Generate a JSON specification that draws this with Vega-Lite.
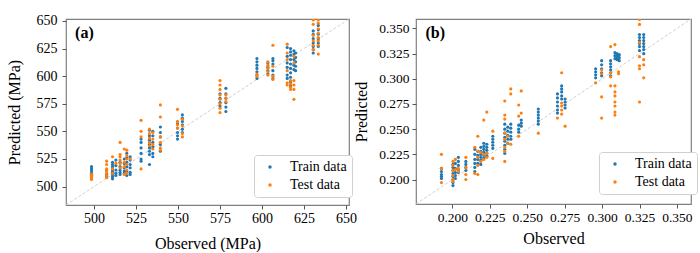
{
"$schema": "https://vega.github.io/schema/vega-lite/v6.json",
"padding": {"left": 5, "top": 13, "right": 0, "bottom": 0},
"bounds": "flush",
"spacing": 67,
"background": "white",
"datasets": {
"la": [{"o":483.3,"p":483.3},{"o":651.8,"p":651.8}],
"lb": [{"o":0.1757,"p":0.1757},{"o":0.3594,"p":0.3594}],
"a": [
{"o":498.5,"p":518,"s":"Train data"},{"o":498.5,"p":516,"s":"Train data"},{"o":498.5,"p":514,"s":"Train data"},{"o":498.5,"p":512,"s":"Train data"},{"o":498.5,"p":511,"s":"Train data"},{"o":498.5,"p":510,"s":"Train data"},{"o":498.5,"p":509,"s":"Train data"},
{"o":507.5,"p":515,"s":"Train data"},{"o":507.5,"p":511,"s":"Train data"},{"o":507.5,"p":509,"s":"Train data"},
{"o":511,"p":522,"s":"Train data"},{"o":511,"p":520,"s":"Train data"},{"o":511,"p":518,"s":"Train data"},{"o":511,"p":516,"s":"Train data"},{"o":511,"p":514,"s":"Train data"},{"o":511,"p":513,"s":"Train data"},{"o":511,"p":511,"s":"Train data"},{"o":511,"p":509,"s":"Train data"},{"o":511,"p":507,"s":"Train data"},
{"o":513,"p":524,"s":"Train data"},{"o":513,"p":519,"s":"Train data"},{"o":513,"p":515,"s":"Train data"},{"o":513,"p":512,"s":"Train data"},{"o":513,"p":510,"s":"Train data"},
{"o":515.5,"p":522,"s":"Train data"},{"o":515.5,"p":518,"s":"Train data"},{"o":515.5,"p":515,"s":"Train data"},{"o":515.5,"p":513,"s":"Train data"},{"o":515.5,"p":511,"s":"Train data"},
{"o":518,"p":525,"s":"Train data"},{"o":518,"p":521,"s":"Train data"},{"o":518,"p":517,"s":"Train data"},{"o":518,"p":514,"s":"Train data"},{"o":518,"p":512,"s":"Train data"},
{"o":519.5,"p":530,"s":"Train data"},{"o":519.5,"p":526,"s":"Train data"},{"o":519.5,"p":522,"s":"Train data"},{"o":519.5,"p":518,"s":"Train data"},{"o":519.5,"p":514,"s":"Train data"},{"o":519.5,"p":510,"s":"Train data"},
{"o":521.5,"p":527,"s":"Train data"},{"o":521.5,"p":524,"s":"Train data"},{"o":521.5,"p":520,"s":"Train data"},{"o":521.5,"p":517,"s":"Train data"},{"o":521.5,"p":513,"s":"Train data"},{"o":521.5,"p":511,"s":"Train data"},
{"o":528,"p":543,"s":"Train data"},{"o":528,"p":540,"s":"Train data"},{"o":528,"p":535,"s":"Train data"},{"o":528,"p":530,"s":"Train data"},{"o":528,"p":525,"s":"Train data"},{"o":528,"p":523,"s":"Train data"},
{"o":533,"p":551,"s":"Train data"},{"o":533,"p":546,"s":"Train data"},{"o":533,"p":542,"s":"Train data"},{"o":533,"p":538,"s":"Train data"},{"o":533,"p":535,"s":"Train data"},{"o":533,"p":532,"s":"Train data"},{"o":533,"p":529,"s":"Train data"},{"o":533,"p":520,"s":"Train data"},
{"o":535,"p":550,"s":"Train data"},{"o":535,"p":546,"s":"Train data"},{"o":535,"p":540,"s":"Train data"},{"o":535,"p":536,"s":"Train data"},{"o":535,"p":530,"s":"Train data"},{"o":535,"p":527,"s":"Train data"},
{"o":539.5,"p":554,"s":"Train data"},{"o":539.5,"p":549,"s":"Train data"},{"o":539.5,"p":545,"s":"Train data"},{"o":539.5,"p":538,"s":"Train data"},{"o":539.5,"p":532,"s":"Train data"},
{"o":549.7,"p":557,"s":"Train data"},{"o":549.7,"p":553,"s":"Train data"},{"o":549.7,"p":549,"s":"Train data"},{"o":549.7,"p":546,"s":"Train data"},{"o":549.7,"p":543,"s":"Train data"},
{"o":552.6,"p":565,"s":"Train data"},{"o":552.6,"p":562,"s":"Train data"},{"o":552.6,"p":559,"s":"Train data"},{"o":552.6,"p":556,"s":"Train data"},{"o":552.6,"p":552,"s":"Train data"},{"o":552.6,"p":549,"s":"Train data"},
{"o":575,"p":584,"s":"Train data"},{"o":575,"p":580,"s":"Train data"},{"o":575,"p":576,"s":"Train data"},{"o":575,"p":573,"s":"Train data"},
{"o":578.5,"p":589,"s":"Train data"},{"o":578.5,"p":584,"s":"Train data"},{"o":578.5,"p":580,"s":"Train data"},{"o":578.5,"p":576,"s":"Train data"},{"o":578.5,"p":572,"s":"Train data"},{"o":578.5,"p":568,"s":"Train data"},
{"o":597,"p":616,"s":"Train data"},{"o":597,"p":613,"s":"Train data"},{"o":597,"p":610,"s":"Train data"},{"o":597,"p":607,"s":"Train data"},{"o":597,"p":604,"s":"Train data"},{"o":597,"p":601,"s":"Train data"},{"o":597,"p":598,"s":"Train data"},
{"o":603.5,"p":612,"s":"Train data"},{"o":603.5,"p":608,"s":"Train data"},{"o":603.5,"p":605,"s":"Train data"},{"o":603.5,"p":602,"s":"Train data"},
{"o":606.5,"p":616,"s":"Train data"},{"o":606.5,"p":614,"s":"Train data"},{"o":606.5,"p":611,"s":"Train data"},{"o":606.5,"p":605,"s":"Train data"},{"o":606.5,"p":601,"s":"Train data"},{"o":606.5,"p":598,"s":"Train data"},
{"o":615,"p":626,"s":"Train data"},{"o":615,"p":618,"s":"Train data"},{"o":615,"p":612,"s":"Train data"},{"o":615,"p":608,"s":"Train data"},{"o":615,"p":601,"s":"Train data"},{"o":615,"p":598,"s":"Train data"},
{"o":617,"p":625,"s":"Train data"},{"o":617,"p":622,"s":"Train data"},{"o":617,"p":619,"s":"Train data"},{"o":617,"p":615,"s":"Train data"},{"o":617,"p":611,"s":"Train data"},{"o":617,"p":607,"s":"Train data"},{"o":617,"p":603,"s":"Train data"},{"o":617,"p":599,"s":"Train data"},{"o":617,"p":595,"s":"Train data"},{"o":617,"p":591,"s":"Train data"},
{"o":619,"p":623,"s":"Train data"},{"o":619,"p":620,"s":"Train data"},{"o":619,"p":615,"s":"Train data"},{"o":619,"p":610,"s":"Train data"},{"o":619,"p":606,"s":"Train data"},
{"o":620,"p":621,"s":"Train data"},{"o":620,"p":617,"s":"Train data"},{"o":620,"p":613,"s":"Train data"},{"o":620,"p":609,"s":"Train data"},{"o":620,"p":605,"s":"Train data"},
{"o":630.5,"p":641,"s":"Train data"},{"o":630.5,"p":638,"s":"Train data"},{"o":630.5,"p":634,"s":"Train data"},{"o":630.5,"p":630,"s":"Train data"},{"o":630.5,"p":627,"s":"Train data"},{"o":630.5,"p":624,"s":"Train data"},{"o":630.5,"p":621,"s":"Train data"},
{"o":633.5,"p":646,"s":"Train data"},{"o":633.5,"p":642,"s":"Train data"},{"o":633.5,"p":638,"s":"Train data"},{"o":633.5,"p":634,"s":"Train data"},{"o":633.5,"p":630,"s":"Train data"},{"o":633.5,"p":627,"s":"Train data"},
{"o":498.5,"p":511,"s":"Test data"},{"o":498.5,"p":509,"s":"Test data"},{"o":498.5,"p":508,"s":"Test data"},{"o":498.5,"p":507,"s":"Test data"},{"o":498.5,"p":510,"s":"Test data"},{"o":498.5,"p":506.5,"s":"Test data"},
{"o":507.5,"p":523,"s":"Test data"},{"o":507.5,"p":520,"s":"Test data"},{"o":507.5,"p":516,"s":"Test data"},{"o":507.5,"p":514,"s":"Test data"},{"o":507.5,"p":512,"s":"Test data"},{"o":507.5,"p":510,"s":"Test data"},{"o":507.5,"p":508,"s":"Test data"},
{"o":511,"p":527,"s":"Test data"},{"o":511,"p":516,"s":"Test data"},{"o":511,"p":512,"s":"Test data"},
{"o":513,"p":521,"s":"Test data"},
{"o":515.5,"p":540,"s":"Test data"},{"o":515.5,"p":529,"s":"Test data"},{"o":515.5,"p":527,"s":"Test data"},{"o":515.5,"p":524,"s":"Test data"},{"o":515.5,"p":521,"s":"Test data"},{"o":515.5,"p":517,"s":"Test data"},
{"o":518,"p":534,"s":"Test data"},{"o":518,"p":522,"s":"Test data"},{"o":518,"p":518,"s":"Test data"},{"o":518,"p":511,"s":"Test data"},
{"o":519.5,"p":533,"s":"Test data"},{"o":519.5,"p":528,"s":"Test data"},{"o":519.5,"p":525,"s":"Test data"},{"o":519.5,"p":520,"s":"Test data"},{"o":519.5,"p":515,"s":"Test data"},{"o":519.5,"p":512,"s":"Test data"},
{"o":521.5,"p":525,"s":"Test data"},
{"o":528,"p":560,"s":"Test data"},{"o":528,"p":550,"s":"Test data"},{"o":528,"p":545,"s":"Test data"},{"o":528,"p":516,"s":"Test data"},
{"o":533,"p":552,"s":"Test data"},{"o":533,"p":548,"s":"Test data"},{"o":533,"p":544,"s":"Test data"},{"o":533,"p":540,"s":"Test data"},{"o":533,"p":537,"s":"Test data"},
{"o":535,"p":549,"s":"Test data"},{"o":535,"p":543,"s":"Test data"},{"o":535,"p":538,"s":"Test data"},{"o":535,"p":534,"s":"Test data"},
{"o":539.5,"p":574,"s":"Test data"},{"o":539.5,"p":563,"s":"Test data"},{"o":539.5,"p":545,"s":"Test data"},{"o":539.5,"p":540,"s":"Test data"},{"o":539.5,"p":535,"s":"Test data"},{"o":539.5,"p":533,"s":"Test data"},
{"o":549.7,"p":570,"s":"Test data"},{"o":549.7,"p":559,"s":"Test data"},{"o":549.7,"p":556,"s":"Test data"},{"o":549.7,"p":553,"s":"Test data"},
{"o":552.6,"p":561,"s":"Test data"},{"o":552.6,"p":555,"s":"Test data"},{"o":552.6,"p":548,"s":"Test data"},{"o":552.6,"p":545,"s":"Test data"},
{"o":575,"p":596,"s":"Test data"},{"o":575,"p":592,"s":"Test data"},{"o":575,"p":588,"s":"Test data"},{"o":575,"p":583,"s":"Test data"},{"o":575,"p":579,"s":"Test data"},{"o":575,"p":575,"s":"Test data"},{"o":575,"p":571,"s":"Test data"},{"o":575,"p":567,"s":"Test data"},
{"o":578.5,"p":583,"s":"Test data"},{"o":578.5,"p":580,"s":"Test data"},{"o":578.5,"p":577,"s":"Test data"},
{"o":597,"p":602,"s":"Test data"},{"o":597,"p":600,"s":"Test data"},
{"o":603.5,"p":613,"s":"Test data"},{"o":603.5,"p":610,"s":"Test data"},{"o":603.5,"p":607,"s":"Test data"},{"o":603.5,"p":604,"s":"Test data"},{"o":603.5,"p":601,"s":"Test data"},
{"o":606.5,"p":628,"s":"Test data"},{"o":606.5,"p":609,"s":"Test data"},{"o":606.5,"p":600,"s":"Test data"},{"o":606.5,"p":597,"s":"Test data"},
{"o":615,"p":629,"s":"Test data"},{"o":615,"p":621,"s":"Test data"},{"o":615,"p":615,"s":"Test data"},{"o":615,"p":605,"s":"Test data"},{"o":615,"p":594,"s":"Test data"},{"o":615,"p":592,"s":"Test data"},
{"o":617,"p":596,"s":"Test data"},{"o":617,"p":593,"s":"Test data"},{"o":617,"p":590,"s":"Test data"},{"o":617,"p":588,"s":"Test data"},
{"o":619,"p":618,"s":"Test data"},{"o":619,"p":612,"s":"Test data"},{"o":619,"p":596,"s":"Test data"},{"o":619,"p":592,"s":"Test data"},{"o":619,"p":588,"s":"Test data"},{"o":619,"p":579,"s":"Test data"},
{"o":630.5,"p":651,"s":"Test data"},{"o":630.5,"p":647,"s":"Test data"},{"o":630.5,"p":637,"s":"Test data"},{"o":630.5,"p":632,"s":"Test data"},{"o":630.5,"p":628,"s":"Test data"},{"o":630.5,"p":624,"s":"Test data"},
{"o":633.5,"p":651,"s":"Test data"},{"o":633.5,"p":648,"s":"Test data"},{"o":633.5,"p":643,"s":"Test data"},{"o":633.5,"p":639,"s":"Test data"},{"o":633.5,"p":635,"s":"Test data"},{"o":633.5,"p":632,"s":"Test data"},{"o":633.5,"p":628,"s":"Test data"},{"o":633.5,"p":620,"s":"Test data"}
],
"b": [
{"o":0.1927,"p":0.211,"s":"Train data"},{"o":0.1927,"p":0.208,"s":"Train data"},{"o":0.1927,"p":0.205,"s":"Train data"},{"o":0.1927,"p":0.203,"s":"Train data"},{"o":0.1927,"p":0.201,"s":"Train data"},
{"o":0.2004,"p":0.215,"s":"Train data"},{"o":0.2004,"p":0.212,"s":"Train data"},{"o":0.2004,"p":0.209,"s":"Train data"},{"o":0.2004,"p":0.206,"s":"Train data"},{"o":0.2004,"p":0.203,"s":"Train data"},{"o":0.2004,"p":0.2,"s":"Train data"},{"o":0.2004,"p":0.197,"s":"Train data"},{"o":0.2004,"p":0.194,"s":"Train data"},
{"o":0.202,"p":0.216,"s":"Train data"},{"o":0.202,"p":0.211,"s":"Train data"},{"o":0.202,"p":0.207,"s":"Train data"},{"o":0.202,"p":0.204,"s":"Train data"},{"o":0.202,"p":0.201,"s":"Train data"},
{"o":0.204,"p":0.222,"s":"Train data"},{"o":0.204,"p":0.218,"s":"Train data"},{"o":0.204,"p":0.214,"s":"Train data"},{"o":0.204,"p":0.21,"s":"Train data"},{"o":0.204,"p":0.207,"s":"Train data"},
{"o":0.209,"p":0.218,"s":"Train data"},{"o":0.209,"p":0.215,"s":"Train data"},{"o":0.209,"p":0.212,"s":"Train data"},{"o":0.209,"p":0.209,"s":"Train data"},
{"o":0.215,"p":0.23,"s":"Train data"},{"o":0.215,"p":0.225,"s":"Train data"},{"o":0.215,"p":0.22,"s":"Train data"},{"o":0.215,"p":0.216,"s":"Train data"},{"o":0.215,"p":0.212,"s":"Train data"},{"o":0.215,"p":0.208,"s":"Train data"},
{"o":0.217,"p":0.228,"s":"Train data"},{"o":0.217,"p":0.224,"s":"Train data"},{"o":0.217,"p":0.22,"s":"Train data"},{"o":0.217,"p":0.216,"s":"Train data"},
{"o":0.219,"p":0.232,"s":"Train data"},{"o":0.219,"p":0.228,"s":"Train data"},{"o":0.219,"p":0.225,"s":"Train data"},{"o":0.219,"p":0.222,"s":"Train data"},{"o":0.219,"p":0.219,"s":"Train data"},{"o":0.219,"p":0.215,"s":"Train data"},
{"o":0.221,"p":0.236,"s":"Train data"},{"o":0.221,"p":0.233,"s":"Train data"},{"o":0.221,"p":0.23,"s":"Train data"},{"o":0.221,"p":0.227,"s":"Train data"},{"o":0.221,"p":0.224,"s":"Train data"},{"o":0.221,"p":0.221,"s":"Train data"},
{"o":0.223,"p":0.235,"s":"Train data"},{"o":0.223,"p":0.232,"s":"Train data"},{"o":0.223,"p":0.229,"s":"Train data"},{"o":0.223,"p":0.226,"s":"Train data"},{"o":0.223,"p":0.223,"s":"Train data"},
{"o":0.227,"p":0.243,"s":"Train data"},{"o":0.227,"p":0.24,"s":"Train data"},{"o":0.227,"p":0.237,"s":"Train data"},{"o":0.227,"p":0.234,"s":"Train data"},{"o":0.227,"p":0.231,"s":"Train data"},
{"o":0.235,"p":0.255,"s":"Train data"},{"o":0.235,"p":0.25,"s":"Train data"},{"o":0.235,"p":0.246,"s":"Train data"},{"o":0.235,"p":0.242,"s":"Train data"},{"o":0.235,"p":0.238,"s":"Train data"},{"o":0.235,"p":0.234,"s":"Train data"},{"o":0.235,"p":0.23,"s":"Train data"},{"o":0.235,"p":0.226,"s":"Train data"},
{"o":0.237,"p":0.252,"s":"Train data"},{"o":0.237,"p":0.248,"s":"Train data"},{"o":0.237,"p":0.244,"s":"Train data"},{"o":0.237,"p":0.24,"s":"Train data"},{"o":0.237,"p":0.236,"s":"Train data"},
{"o":0.239,"p":0.255,"s":"Train data"},{"o":0.239,"p":0.251,"s":"Train data"},{"o":0.239,"p":0.247,"s":"Train data"},{"o":0.239,"p":0.243,"s":"Train data"},{"o":0.239,"p":0.24,"s":"Train data"},
{"o":0.2443,"p":0.254,"s":"Train data"},{"o":0.2443,"p":0.25,"s":"Train data"},{"o":0.2443,"p":0.247,"s":"Train data"},
{"o":0.246,"p":0.259,"s":"Train data"},{"o":0.246,"p":0.256,"s":"Train data"},{"o":0.246,"p":0.253,"s":"Train data"},
{"o":0.2574,"p":0.27,"s":"Train data"},{"o":0.2574,"p":0.267,"s":"Train data"},{"o":0.2574,"p":0.264,"s":"Train data"},{"o":0.2574,"p":0.261,"s":"Train data"},{"o":0.2574,"p":0.258,"s":"Train data"},{"o":0.2574,"p":0.255,"s":"Train data"},
{"o":0.2702,"p":0.285,"s":"Train data"},{"o":0.2702,"p":0.281,"s":"Train data"},{"o":0.2702,"p":0.277,"s":"Train data"},{"o":0.2702,"p":0.273,"s":"Train data"},{"o":0.2702,"p":0.269,"s":"Train data"},{"o":0.2702,"p":0.266,"s":"Train data"},
{"o":0.273,"p":0.293,"s":"Train data"},{"o":0.273,"p":0.29,"s":"Train data"},{"o":0.273,"p":0.287,"s":"Train data"},{"o":0.273,"p":0.283,"s":"Train data"},{"o":0.273,"p":0.28,"s":"Train data"},
{"o":0.2753,"p":0.28,"s":"Train data"},{"o":0.2753,"p":0.277,"s":"Train data"},{"o":0.2753,"p":0.274,"s":"Train data"},{"o":0.2753,"p":0.271,"s":"Train data"},
{"o":0.2957,"p":0.31,"s":"Train data"},{"o":0.2957,"p":0.307,"s":"Train data"},{"o":0.2957,"p":0.304,"s":"Train data"},{"o":0.2957,"p":0.301,"s":"Train data"},
{"o":0.2997,"p":0.318,"s":"Train data"},{"o":0.2997,"p":0.314,"s":"Train data"},{"o":0.2997,"p":0.31,"s":"Train data"},{"o":0.2997,"p":0.306,"s":"Train data"},{"o":0.2997,"p":0.303,"s":"Train data"},
{"o":0.3057,"p":0.318,"s":"Train data"},{"o":0.3057,"p":0.315,"s":"Train data"},{"o":0.3057,"p":0.312,"s":"Train data"},{"o":0.3057,"p":0.309,"s":"Train data"},{"o":0.3057,"p":0.306,"s":"Train data"},{"o":0.3057,"p":0.303,"s":"Train data"},
{"o":0.3086,"p":0.326,"s":"Train data"},{"o":0.3086,"p":0.323,"s":"Train data"},{"o":0.3086,"p":0.32,"s":"Train data"},
{"o":0.31,"p":0.325,"s":"Train data"},{"o":0.31,"p":0.323,"s":"Train data"},{"o":0.31,"p":0.321,"s":"Train data"},{"o":0.31,"p":0.319,"s":"Train data"},{"o":0.3105,"p":0.322,"s":"Train data"},{"o":0.3105,"p":0.32,"s":"Train data"},
{"o":0.3115,"p":0.324,"s":"Train data"},{"o":0.3115,"p":0.321,"s":"Train data"},{"o":0.3115,"p":0.318,"s":"Train data"},
{"o":0.325,"p":0.344,"s":"Train data"},{"o":0.325,"p":0.341,"s":"Train data"},{"o":0.325,"p":0.338,"s":"Train data"},{"o":0.325,"p":0.335,"s":"Train data"},{"o":0.325,"p":0.332,"s":"Train data"},{"o":0.325,"p":0.328,"s":"Train data"},
{"o":0.3278,"p":0.344,"s":"Train data"},{"o":0.3278,"p":0.341,"s":"Train data"},{"o":0.3278,"p":0.338,"s":"Train data"},{"o":0.3278,"p":0.335,"s":"Train data"},{"o":0.3278,"p":0.332,"s":"Train data"},{"o":0.3278,"p":0.329,"s":"Train data"},{"o":0.3278,"p":0.325,"s":"Train data"},
{"o":0.1927,"p":0.225,"s":"Test data"},{"o":0.1927,"p":0.211,"s":"Test data"},{"o":0.1927,"p":0.197,"s":"Test data"},
{"o":0.2004,"p":0.218,"s":"Test data"},{"o":0.2004,"p":0.214,"s":"Test data"},{"o":0.2004,"p":0.209,"s":"Test data"},{"o":0.2004,"p":0.204,"s":"Test data"},{"o":0.2004,"p":0.2,"s":"Test data"},{"o":0.2004,"p":0.198,"s":"Test data"},
{"o":0.202,"p":0.22,"s":"Test data"},{"o":0.202,"p":0.21,"s":"Test data"},
{"o":0.204,"p":0.211,"s":"Test data"},{"o":0.204,"p":0.208,"s":"Test data"},
{"o":0.209,"p":0.222,"s":"Test data"},{"o":0.209,"p":0.212,"s":"Test data"},{"o":0.209,"p":0.205,"s":"Test data"},{"o":0.209,"p":0.2,"s":"Test data"},
{"o":0.215,"p":0.232,"s":"Test data"},{"o":0.215,"p":0.206,"s":"Test data"},
{"o":0.217,"p":0.243,"s":"Test data"},{"o":0.217,"p":0.228,"s":"Test data"},{"o":0.217,"p":0.222,"s":"Test data"},{"o":0.217,"p":0.214,"s":"Test data"},{"o":0.217,"p":0.205,"s":"Test data"},
{"o":0.219,"p":0.227,"s":"Test data"},{"o":0.219,"p":0.218,"s":"Test data"},
{"o":0.221,"p":0.259,"s":"Test data"},{"o":0.221,"p":0.225,"s":"Test data"},{"o":0.221,"p":0.22,"s":"Test data"},
{"o":0.223,"p":0.267,"s":"Test data"},{"o":0.223,"p":0.226,"s":"Test data"},{"o":0.223,"p":0.222,"s":"Test data"},
{"o":0.227,"p":0.248,"s":"Test data"},{"o":0.227,"p":0.221,"s":"Test data"},
{"o":0.235,"p":0.278,"s":"Test data"},{"o":0.235,"p":0.264,"s":"Test data"},{"o":0.235,"p":0.26,"s":"Test data"},{"o":0.235,"p":0.246,"s":"Test data"},{"o":0.235,"p":0.24,"s":"Test data"},{"o":0.235,"p":0.232,"s":"Test data"},{"o":0.235,"p":0.228,"s":"Test data"},{"o":0.235,"p":0.218,"s":"Test data"},
{"o":0.237,"p":0.243,"s":"Test data"},{"o":0.237,"p":0.236,"s":"Test data"},
{"o":0.239,"p":0.29,"s":"Test data"},{"o":0.239,"p":0.285,"s":"Test data"},{"o":0.239,"p":0.235,"s":"Test data"},
{"o":0.2443,"p":0.274,"s":"Test data"},{"o":0.2443,"p":0.263,"s":"Test data"},{"o":0.2443,"p":0.243,"s":"Test data"},
{"o":0.246,"p":0.288,"s":"Test data"},{"o":0.246,"p":0.266,"s":"Test data"},
{"o":0.2574,"p":0.246,"s":"Test data"},
{"o":0.2702,"p":0.261,"s":"Test data"},
{"o":0.273,"p":0.306,"s":"Test data"},{"o":0.273,"p":0.276,"s":"Test data"},{"o":0.273,"p":0.273,"s":"Test data"},{"o":0.273,"p":0.269,"s":"Test data"},{"o":0.273,"p":0.265,"s":"Test data"},
{"o":0.2753,"p":0.253,"s":"Test data"},
{"o":0.2957,"p":0.296,"s":"Test data"},
{"o":0.2997,"p":0.309,"s":"Test data"},{"o":0.2997,"p":0.305,"s":"Test data"},{"o":0.2997,"p":0.282,"s":"Test data"},{"o":0.2997,"p":0.261,"s":"Test data"},
{"o":0.3057,"p":0.332,"s":"Test data"},{"o":0.3057,"p":0.306,"s":"Test data"},{"o":0.3057,"p":0.302,"s":"Test data"},{"o":0.3057,"p":0.293,"s":"Test data"},
{"o":0.3086,"p":0.334,"s":"Test data"},{"o":0.3086,"p":0.293,"s":"Test data"},{"o":0.3086,"p":0.287,"s":"Test data"},{"o":0.3086,"p":0.283,"s":"Test data"},{"o":0.3086,"p":0.277,"s":"Test data"},{"o":0.3086,"p":0.273,"s":"Test data"},{"o":0.3086,"p":0.267,"s":"Test data"},{"o":0.3086,"p":0.264,"s":"Test data"},
{"o":0.311,"p":0.307,"s":"Test data"},{"o":0.311,"p":0.305,"s":"Test data"},
{"o":0.325,"p":0.359,"s":"Test data"},{"o":0.325,"p":0.354,"s":"Test data"},{"o":0.325,"p":0.336,"s":"Test data"},{"o":0.325,"p":0.322,"s":"Test data"},{"o":0.325,"p":0.313,"s":"Test data"},{"o":0.325,"p":0.31,"s":"Test data"},{"o":0.325,"p":0.277,"s":"Test data"},
{"o":0.3278,"p":0.319,"s":"Test data"},{"o":0.3278,"p":0.314,"s":"Test data"},{"o":0.3278,"p":0.301,"s":"Test data"}
],
"ta": [{"o":488.7,"p":634.5,"t":"(a)"}],
"tb": [{"o":0.182,"p":0.3405,"t":"(b)"}]
},
"hconcat": [
{
"width": 283, "height": 186,
"encoding": {
"x": {"field":"o","type":"quantitative","scale":{"domain":[483.3,651.8],"nice":false,"zero":false},
"axis":{"title":"Observed (MPa)","values":[500,525,550,575,600,625,650],"labelPadding":2,"titlePadding":10}},
"y": {"field":"p","type":"quantitative","scale":{"domain":[483.3,651.8],"nice":false,"zero":false},
"axis":{"title":"Predicted (MPa)","values":[500,525,550,575,600,625,650],"labelPadding":5,"titlePadding":14}}
},
"layer": [
{"data":{"name":"la"},"mark":{"type":"line","strokeDash":[3,2],"color":"#cfcfcf","strokeWidth":1,"clip":true},"encoding":{}},
{"data":{"name":"a"},"mark":{"type":"circle","size":10,"opacity":1,"clip":true},
"encoding":{"color":{"field":"s","type":"nominal","scale":{"domain":["Train data","Test data"],"range":["#1f77b4","#ff7f0e"]},
"legend":{"title":null,"orient":"none","legendX":188,"legendY":136,"labelFont":"Liberation Serif","labelFontSize":14,"rowPadding":4}}}},
{"data":{"name":"ta"},"mark":{"type":"text","font":"Liberation Serif","fontSize":16,"fontWeight":"bold","align":"left","baseline":"alphabetic","color":"black"},"encoding":{"text":{"field":"t"}}}
]
},
{
"width": 275, "height": 185,
"encoding": {
"x": {"field":"o","type":"quantitative","scale":{"domain":[0.1757,0.3594],"nice":false,"zero":false},
"axis":{"title":"Observed","values":[0.2,0.225,0.25,0.275,0.3,0.325,0.35],"format":".3f","labelPadding":2,"titlePadding":7,"labelFontSize":13.5}},
"y": {"field":"p","type":"quantitative","scale":{"domain":[0.1757,0.3594],"nice":false,"zero":false},
"axis":{"title":"Predicted","values":[0.2,0.225,0.25,0.275,0.3,0.325,0.35],"format":".3f","labelPadding":3,"titlePadding":9,"labelFontSize":13.5}}
},
"layer": [
{"data":{"name":"lb"},"mark":{"type":"line","strokeDash":[3,2],"color":"#cfcfcf","strokeWidth":1,"clip":true},"encoding":{}},
{"data":{"name":"b"},"mark":{"type":"circle","size":10,"opacity":1,"clip":true},
"encoding":{"color":{"field":"s","type":"nominal","scale":{"domain":["Train data","Test data"],"range":["#1f77b4","#ff7f0e"]},
"legend":{"title":null,"orient":"none","legendX":183,"legendY":133,"labelFont":"Liberation Serif","labelFontSize":14,"rowPadding":4}}}},
{"data":{"name":"tb"},"mark":{"type":"text","font":"Liberation Serif","fontSize":16,"fontWeight":"bold","align":"left","baseline":"alphabetic","color":"black"},"encoding":{"text":{"field":"t"}}}
]
}
],
"resolve": {"scale":{"color":"independent"},"legend":{"color":"independent"}},
"config": {
"view": {"stroke":"#808080","strokeWidth":1.2},
"axis": {"grid":false,"domain":false,"ticks":true,"tickColor":"#555555","tickSize":4,
"labelFont":"Liberation Serif","labelFontSize":14,"labelColor":"black",
"titleFont":"Liberation Serif","titleFontSize":16,"titleFontWeight":"normal","titleColor":"black"},
"legend": {"labelFont":"Liberation Serif","labelFontSize":14,"labelColor":"black","symbolType":"circle","symbolSize":12,
"strokeColor":"#d0d0d0","fillColor":"white","cornerRadius":3,"padding":5,"rowPadding":4,"labelOffset":13,"symbolOffset":4,"symbolStrokeWidth":0}
}
}
